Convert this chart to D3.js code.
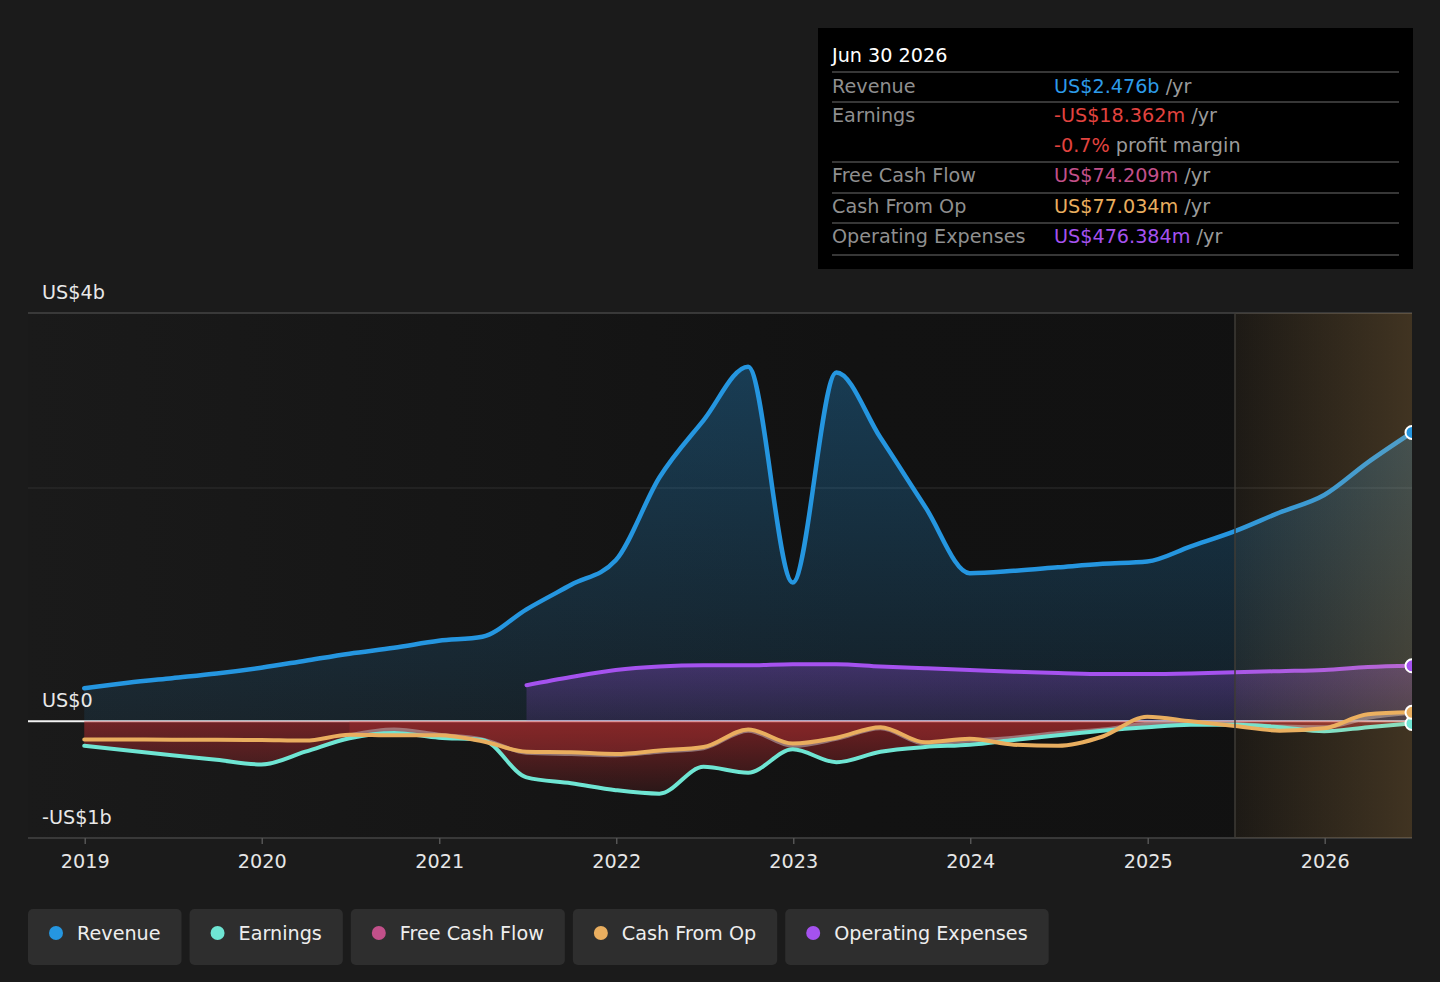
<!DOCTYPE html>
<html>
<head>
<meta charset="utf-8">
<script src="https://cdn.jsdelivr.net/npm/d3@7"></script>
<style>
  body { margin: 0; background: #1b1b1b; }
  svg { display: block; font-family: "DejaVu Sans", sans-serif; }
</style>
</head>
<body>
<svg id="chart" width="1440" height="982"></svg>
<script>
// quarter ends (trailing twelve months), values in US$ billions
var periods = ["2018-12-31","2019-03-31","2019-06-30","2019-09-30","2019-12-31",
  "2020-03-31","2020-06-30","2020-09-30","2020-12-31","2021-03-31","2021-06-30",
  "2021-09-30","2021-12-31","2022-03-31","2022-06-30","2022-09-30","2022-12-31",
  "2023-03-31","2023-06-30","2023-09-30","2023-12-31","2024-03-31","2024-06-30",
  "2024-09-30","2024-12-31","2025-03-31","2025-06-30","2025-09-30","2025-12-31",
  "2026-03-31","2026-06-30"];

var revenue = [0.283,0.33,0.37,0.41,0.46,0.52,0.58,0.63,0.69,0.725,0.96,
  1.17,1.38,2.09,2.58,3.04,1.19,2.99,2.43,1.84,1.27,1.29,1.32,1.35,1.37,
  1.50,1.63,1.79,1.94,2.22,2.476];

var earnings = [-0.21,-0.25,-0.29,-0.33,-0.37,-0.26,-0.145,-0.10,-0.14,-0.16,-0.48,
  -0.53,-0.59,-0.62,-0.39,-0.44,-0.24,-0.35,-0.26,-0.22,-0.20,-0.16,-0.12,-0.08,-0.05,
  -0.03,-0.03,-0.05,-0.085,-0.05,-0.018];

var freeCashFlow = [null,null,null,null,null,null,-0.12,-0.07,-0.115,-0.155,-0.27,
  -0.28,-0.29,-0.26,-0.23,-0.08,-0.21,-0.15,-0.06,-0.19,-0.165,-0.14,-0.10,-0.07,-0.02,
  -0.01,-0.02,-0.045,-0.05,0.03,0.074];

var cashFromOp = [-0.155,-0.155,-0.157,-0.158,-0.16,-0.165,-0.115,-0.12,-0.12,-0.17,-0.26,
  -0.265,-0.28,-0.25,-0.22,-0.07,-0.19,-0.14,-0.05,-0.18,-0.15,-0.20,-0.21,-0.13,0.04,
  0.00,-0.04,-0.08,-0.06,0.06,0.077];

var opex = [null,null,null,null,null,null,null,null,null,null,0.31,
  0.38,0.44,0.47,0.48,0.48,0.49,0.49,0.47,0.455,0.44,0.425,0.415,0.405,0.405,
  0.41,0.42,0.43,0.44,0.465,0.476];

var yTickValues = [3.5, 0, -1];
var yTickLabels = ["US$4b", "US$0", "-US$1b"];
var gridValues = [3.5, 2, -1];

var seriesNames = ["Revenue", "Earnings", "Free Cash Flow", "Cash From Op", "Operating Expenses"];
var seriesColors = ["#2596e0", "#6fe5d3", "#c2508a", "#e9ae5f", "#a552ef"];

var tipTitle = "Jun 30 2026";
var tipLabels = ["Revenue", "Earnings", "", "Free Cash Flow", "Cash From Op", "Operating Expenses"];
var tipValues = ["US$2.476b", "-US$18.362m", "-0.7%", "US$74.209m", "US$77.034m", "US$476.384m"];
var tipSuffix = [" /yr", " /yr", " profit margin", " /yr", " /yr", " /yr"];
var tipColors = ["#2d9be9", "#e2433f", "#e2433f", "#c3508a", "#e9ae5f", "#a552ef"];

var forecastStart = "2025-06-30";

var parse = d3.timeParse("%Y-%m-%d");
var dates = periods.map(parse);

var svg = d3.select("#chart");
var defs = svg.append("defs");

var plotLeft = 28, plotRight = 1412, plotTop = 313, plotBottom = 838;
var fontSize = "19.2px";

var x = d3.scaleTime()
  .domain([new Date(2018, 8, 6), parse("2026-06-30")])
  .range([plotLeft, plotRight]);

var y = d3.scaleLinear()
  .domain([-1, 3.5])
  .range([plotBottom, plotTop]);

function rows(values) {
  return values.map(function(v, i) { return {date: dates[i], v: v}; });
}

// gradients
var g1 = defs.append("linearGradient").attr("id", "plotBg")
  .attr("x1", 0).attr("x2", 1).attr("y1", 0).attr("y2", 0);
g1.append("stop").attr("offset", "0%").attr("stop-color", "#1a1a1a");
g1.append("stop").attr("offset", "60%").attr("stop-color", "#121212");
g1.append("stop").attr("offset", "100%").attr("stop-color", "#111111");

var g2 = defs.append("linearGradient").attr("id", "revFill")
  .attr("gradientUnits", "userSpaceOnUse")
  .attr("x1", 0).attr("x2", 0).attr("y1", y(3.1)).attr("y2", y(0));
g2.append("stop").attr("offset", "0%").attr("stop-color", "#2596e0").attr("stop-opacity", 0.32);
g2.append("stop").attr("offset", "100%").attr("stop-color", "#2596e0").attr("stop-opacity", 0.1);

var g3 = defs.append("linearGradient").attr("id", "opexFill")
  .attr("gradientUnits", "userSpaceOnUse")
  .attr("x1", 0).attr("x2", 0).attr("y1", y(0.5)).attr("y2", y(0));
g3.append("stop").attr("offset", "0%").attr("stop-color", "#a552ef").attr("stop-opacity", 0.3);
g3.append("stop").attr("offset", "100%").attr("stop-color", "#a552ef").attr("stop-opacity", 0.14);

var g4 = defs.append("linearGradient").attr("id", "lossFill")
  .attr("gradientUnits", "userSpaceOnUse")
  .attr("x1", 0).attr("x2", 0).attr("y1", y(0)).attr("y2", y(-0.65));
g4.append("stop").attr("offset", "0%").attr("stop-color", "#c82d32").attr("stop-opacity", 0.5);
g4.append("stop").attr("offset", "100%").attr("stop-color", "#c82d32").attr("stop-opacity", 0.1);

var g5 = defs.append("linearGradient").attr("id", "forecastFill")
  .attr("x1", 0).attr("x2", 1).attr("y1", 0).attr("y2", 0);
g5.append("stop").attr("offset", "0%").attr("stop-color", "#ffbe64").attr("stop-opacity", 0.05);
g5.append("stop").attr("offset", "100%").attr("stop-color", "#ffbe64").attr("stop-opacity", 0.2);

defs.append("clipPath").attr("id", "plotClip")
  .append("rect").attr("x", plotLeft).attr("y", plotTop - 20)
  .attr("width", plotRight - plotLeft).attr("height", plotBottom - plotTop + 40);

// plot background
svg.append("rect")
  .attr("x", plotLeft).attr("y", plotTop)
  .attr("width", plotRight - plotLeft).attr("height", plotBottom - plotTop)
  .attr("fill", "url(#plotBg)");

// grid
svg.append("g").selectAll("line").data(gridValues).enter().append("line")
  .attr("x1", plotLeft).attr("x2", plotRight)
  .attr("y1", function(d) { return y(d); })
  .attr("y2", function(d) { return y(d); })
  .attr("stroke", function(d) { return d == 2 ? "#2e2e2e" : "#444"; })
  .attr("stroke-width", function(d) { return d == 2 ? 1 : 1.5; });

svg.append("line")
  .attr("x1", plotLeft).attr("x2", plotRight)
  .attr("y1", y(0)).attr("y2", y(0))
  .attr("stroke", "#f2f2f2").attr("stroke-width", 2);

var plot = svg.append("g").attr("clip-path", "url(#plotClip)");

var curve = d3.curveMonotoneX;

function areaTo(values, fill, clampNeg) {
  var a = d3.area()
    .defined(function(d) { return d.v != null; })
    .curve(curve)
    .x(function(d) { return x(d.date); })
    .y0(y(0))
    .y1(function(d) { return y(clampNeg ? Math.min(d.v, 0) : d.v); });
  plot.append("path").attr("d", a(rows(values))).attr("fill", fill);
}

function lineOf(values, color, width, opacity) {
  var l = d3.line()
    .defined(function(d) { return d.v != null; })
    .curve(curve)
    .x(function(d) { return x(d.date); })
    .y(function(d) { return y(d.v); });
  plot.append("path").attr("d", l(rows(values)))
    .attr("fill", "none")
    .attr("stroke", color)
    .attr("stroke-width", width)
    .attr("stroke-opacity", opacity)
    .attr("stroke-linejoin", "round")
    .attr("stroke-linecap", "round");
}

areaTo(revenue, "url(#revFill)", false);
areaTo(opex, "url(#opexFill)", false);
areaTo(earnings, "url(#lossFill)", true);
areaTo(freeCashFlow, "rgba(220,60,60,0.22)", true);

lineOf(freeCashFlow, "#b8a9ab", 4, 0.6);
lineOf(earnings, seriesColors[1], 4, 1);
lineOf(cashFromOp, seriesColors[3], 4, 1);
lineOf(opex, seriesColors[4], 4, 1);
lineOf(revenue, seriesColors[0], 4.5, 1);

// forecast shading
var fx = x(parse(forecastStart));
plot.append("rect")
  .attr("x", fx).attr("y", plotTop)
  .attr("width", plotRight - fx).attr("height", plotBottom - plotTop)
  .attr("fill", "url(#forecastFill)");
plot.append("line")
  .attr("x1", fx).attr("x2", fx).attr("y1", plotTop).attr("y2", plotBottom)
  .attr("stroke", "#3e3b36").attr("stroke-width", 1.5);

// end markers
var last = dates.length - 1;
var markerSeries = [
  {v: earnings[last], c: seriesColors[1]},
  {v: cashFromOp[last], c: seriesColors[3]},
  {v: opex[last], c: seriesColors[4]},
  {v: revenue[last], c: seriesColors[0]}
];
plot.selectAll("circle.end").data(markerSeries).enter().append("circle")
  .attr("class", "end")
  .attr("cx", x(dates[last]))
  .attr("cy", function(d) { return y(d.v); })
  .attr("r", 6.5)
  .attr("fill", function(d) { return d.c; })
  .attr("stroke", "#fff").attr("stroke-width", 2);

// y labels
svg.append("g").selectAll("text").data(yTickValues).enter().append("text")
  .attr("x", 42)
  .attr("y", function(d) { return y(d) - 14; })
  .attr("fill", "#e8e8e8")
  .style("font-size", fontSize)
  .text(function(d, i) { return yTickLabels[i]; });

// x axis
var xAxis = d3.axisBottom(x)
  .ticks(d3.timeYear.every(1))
  .tickFormat(d3.timeFormat("%Y"))
  .tickSize(6)
  .tickPadding(10.5);
var ax = svg.append("g")
  .attr("transform", "translate(0," + plotBottom + ")")
  .call(xAxis);
ax.select(".domain").remove();
ax.selectAll(".tick line").attr("stroke", "#555").attr("stroke-width", 1.5);
ax.selectAll(".tick text")
  .attr("fill", "#e6e6e6")
  .style("font-size", fontSize)
  .style("font-family", "DejaVu Sans, sans-serif");

// tooltip
var tip = svg.append("g");
tip.append("rect")
  .attr("x", 818).attr("y", 28)
  .attr("width", 595).attr("height", 241)
  .attr("fill", "#000");
tip.append("text")
  .attr("x", 832).attr("y", 62)
  .attr("fill", "#fff").style("font-size", fontSize)
  .text(tipTitle);

var rowBase = [93, 122, 152, 182, 213, 243];
var sepLines = [72, 102, 162, 193, 223, 255];
tip.selectAll("line").data(sepLines).enter().append("line")
  .attr("x1", 832).attr("x2", 1399)
  .attr("y1", function(d) { return d; }).attr("y2", function(d) { return d; })
  .attr("stroke", "#4a4a4a").attr("stroke-width", 1.5);

tipLabels.forEach(function(lbl, i) {
  tip.append("text")
    .attr("x", 832).attr("y", rowBase[i])
    .attr("fill", "#8f8f8f").style("font-size", fontSize)
    .text(lbl);
  var t = tip.append("text")
    .attr("x", 1054).attr("y", rowBase[i])
    .style("font-size", fontSize);
  t.append("tspan").attr("fill", tipColors[i]).text(tipValues[i]);
  t.append("tspan").attr("fill", "#9a9a9a").text(tipSuffix[i]);
});

// legend
var legend = svg.append("g");
var lx = 28;
seriesNames.forEach(function(name, i) {
  var item = legend.append("g").attr("transform", "translate(" + lx + ",909)");
  var r = item.append("rect")
    .attr("height", 56).attr("rx", 5).attr("ry", 5)
    .attr("fill", "#2e2e2e");
  item.append("circle")
    .attr("cx", 28).attr("cy", 24).attr("r", 7)
    .attr("fill", seriesColors[i]);
  var t = item.append("text")
    .attr("x", 49).attr("y", 31)
    .attr("fill", "#eeeeee").style("font-size", fontSize)
    .text(name);
  var w = 49 + t.node().getComputedTextLength() + 21;
  r.attr("width", w);
  lx += w + 8;
});
</script>
</body>
</html>
